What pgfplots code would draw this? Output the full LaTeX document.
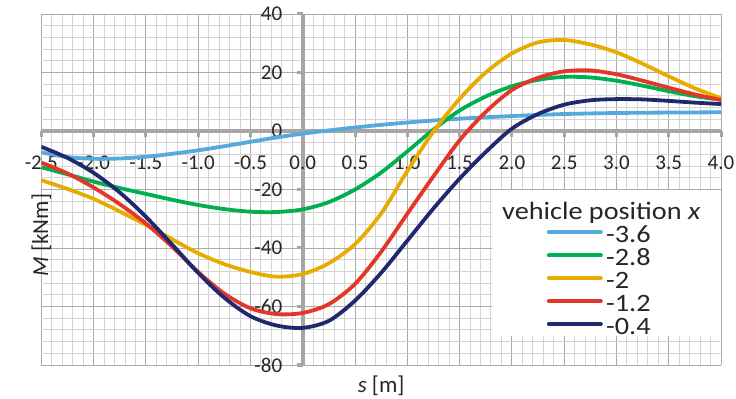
\documentclass[border=0pt]{standalone}
\usepackage{pgfplots}
\usepackage{pgfplotstable}
\pgfplotsset{compat=1.18}
\usepackage{fontspec}
\setmainfont{Carlito}
\newfontfamily\legfont{Carlito}[FakeStretch=1.13]

\definecolor{cA}{RGB}{85,170,220}
\definecolor{cB}{RGB}{0,176,80}
\definecolor{cC}{RGB}{232,172,0}
\definecolor{cD}{RGB}{228,54,40}
\definecolor{cE}{RGB}{33,41,110}
\definecolor{gmaj}{RGB}{172,172,172}
\definecolor{gmin}{RGB}{212,212,212}
\definecolor{gaxis}{RGB}{166,166,166}

\pgfplotstableread{
s a b c d e
-2.5 -7.3 -12.4 -16.8 -10.8 -5.4
-2.25 -8.9 -14.8 -19.8 -14.5 -9.2
-2.0 -9.5 -17.3 -23.2 -19.3 -14.3
-1.75 -9.4 -19.5 -27.5 -25.0 -21.0
-1.5 -8.8 -21.5 -32.1 -31.6 -29.3
-1.25 -7.8 -23.5 -37.0 -39.5 -38.8
-1.0 -6.6 -25.3 -41.8 -48.2 -48.5
-0.75 -5.2 -26.7 -45.5 -55.6 -57.0
-0.5 -3.7 -27.6 -48.2 -60.6 -63.3
-0.25 -2.2 -27.7 -49.8 -62.6 -66.5
0 -0.9 -26.8 -48.9 -62.2 -67.3
0.25 0.2 -24.3 -45.2 -59.2 -64.9
0.5 1.2 -20.0 -38.7 -52.3 -58.0
0.75 2.1 -14.2 -28.2 -41.3 -48.5
1.0 2.9 -7.0 -13.7 -28.3 -37.5
1.25 3.6 0.5 -0.2 -15.5 -26.5
1.5 4.2 7.0 11.0 -3.2 -16.3
1.75 4.7 11.8 20.0 6.5 -7.2
2.0 5.1 15.3 26.5 14.0 0.8
2.25 5.5 17.5 30.3 18.2 5.8
2.5 5.8 18.5 31.1 20.4 9.0
2.75 6.0 18.3 29.6 20.7 10.5
3.0 6.15 17.2 26.9 19.4 10.9
3.25 6.25 15.5 23.0 17.2 10.8
3.5 6.3 13.6 18.7 14.8 10.3
3.75 6.35 11.9 14.6 12.5 9.7
4.0 6.4 10.7 11.2 10.6 9.2
}\data

\newcommand\lstrut{\rule[-6bp]{0pt}{27.5bp}}

\begin{document}
\begin{tikzpicture}
\begin{axis}[
  scale only axis, width=679.7bp, height=351bp,
  xmin=-2.5, xmax=4, ymin=-80, ymax=40,
  axis lines=middle,
  axis line style={-, gaxis, line width=4bp},
  xtick={-2.5,-2,-1.5,-1,-0.5,0,0.5,1,1.5,2,2.5,3,3.5,4},
  xticklabels={-2.5,-2.0,-1.5,-1.0,-0.5,0.0,0.5,1.0,1.5,2.0,2.5,3.0,3.5,4.0},
  ytick={-80,-60,-40,-20,0,20,40},
  yticklabels={-80,-60,-40,-20,0,20,40},
  minor x tick num=4, minor y tick num=4,
  grid=both,
  major grid style={gmaj, line width=0.9bp},
  minor grid style={gmin, line width=0.9bp},
  hide obscured x ticks=false, hide obscured y ticks=false,
  tick align=outside,
  major tick length=6bp, minor tick length=0bp,
  every tick/.style={gaxis, line width=3bp},
  every tick label/.append style={font=\fontsize{21bp}{25bp}\selectfont, text=black!85},
  xticklabel style={anchor=north, yshift=-15bp},
  yticklabel style={anchor=east, xshift=-11bp},
  every axis x label/.style={at={(axis description cs:0.5,0)}, anchor=center, yshift=-21bp, font=\fontsize{23bp}{27bp}\selectfont, text=black!85},
  every axis y label/.style={at={(axis description cs:0,0.439)}, anchor=center, rotate=90, xshift=-24.3bp, font=\fontsize{23bp}{27bp}\selectfont, text=black!85},
  xlabel={\textit{s} [m]},
  ylabel={\textit{M} [kNm]},
  legend style={draw=none, fill=white, at={(rel axis cs:0.6627,0.4986)}, anchor=north west,
    font=\legfont\fontsize{25bp}{30bp}\selectfont, text=black!85,
    inner xsep=10bp, inner ysep=0bp, row sep=0bp, column sep=3.4bp,
    nodes={inner sep=0bp}},
  legend cell align=left,
  legend image code/.code={\path (-45bp,0bp); \draw[#1, line width=4bp, line cap=round] (0bp,0bp) -- (52bp,0bp);},
]
\addlegendimage{empty legend}
\addlegendentry{\rule[-7.25bp]{0pt}{36.25bp}\hspace*{-104bp}vehicle position \textit{x}\hspace*{10bp}}
\addplot[cA, line width=3.8bp, smooth] table[x=s, y=a]{\data};
\addlegendentry{\lstrut-3.6}
\addplot[cB, line width=3.8bp, smooth] table[x=s, y=b]{\data};
\addlegendentry{\lstrut-2.8}
\addplot[cC, line width=3.8bp, smooth] table[x=s, y=c]{\data};
\addlegendentry{\lstrut-2}
\addplot[cD, line width=3.8bp, smooth] table[x=s, y=d]{\data};
\addlegendentry{\lstrut-1.2}
\addplot[cE, line width=3.8bp, smooth] table[x=s, y=e]{\data};
\addlegendentry{\lstrut-0.4}
\end{axis}
\pgfresetboundingbox
\path[use as bounding box] ([shift={(-41.3bp,-34bp)}]current axis.south west) rectangle ([shift={(15bp,14bp)}]current axis.north east);
\end{tikzpicture}
\end{document}
